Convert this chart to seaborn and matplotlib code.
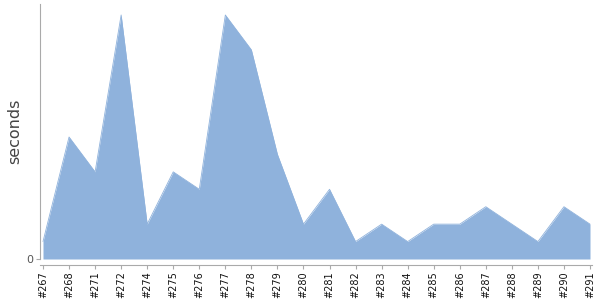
import matplotlib
matplotlib.use("Agg")
import matplotlib.pyplot as plt
import seaborn as sns
import numpy as np

builds = ["#267", "#268", "#271", "#272", "#274", "#275", "#276", "#277", "#278", "#279", "#280",
          "#281", "#282", "#283", "#284", "#285", "#286", "#287", "#288", "#289", "#290", "#291"]
seconds = [1, 7, 5, 14, 2, 5, 4, 14, 12, 6, 2, 4, 1, 2, 1, 2, 2, 3, 2, 1, 3, 2]

sns.set_style("white")
plt.rcParams['font.family'] = ['DejaVu Sans']

fig = plt.figure(figsize=(6, 3), dpi=100)
ax = fig.add_axes([40 / 600, 41 / 300, 552 / 600, 255 / 300])

color = "#8fb2dc"
x = np.arange(len(builds))
sns.lineplot(x=x, y=seconds, ax=ax, color=color, linewidth=0.6)
ax.fill_between(x, seconds, 0, color=color, linewidth=0)

ax.set_xlim(-3 / 26.05, 21 + 2 / 26.05)
ax.set_ylim(0, 14.63)

for s in ["top", "right"]:
    ax.spines[s].set_visible(False)
for s in ["left", "bottom"]:
    ax.spines[s].set_color("#aaaaaa")
    ax.spines[s].set_linewidth(0.8)
ax.spines["bottom"].set_position(("outward", 4))
ax.tick_params(axis="both", which="both", direction="out", length=3, width=0.8,
               color="#aaaaaa", pad=2, left=True, bottom=True)
ax.tick_params(axis="x", labelrotation=90, labelsize=7, labelcolor="#111111")
ax.tick_params(axis="y", labelsize=8, labelcolor="#555555")

ax.set_xticks(x)
ax.set_xticklabels(builds)
ax.set_yticks([0])
ax.set_yticklabels(["0"])
ax.set_ylabel("seconds", fontsize=11.5, color="#444444", labelpad=3)

fig.savefig("out.png", dpi=100)
